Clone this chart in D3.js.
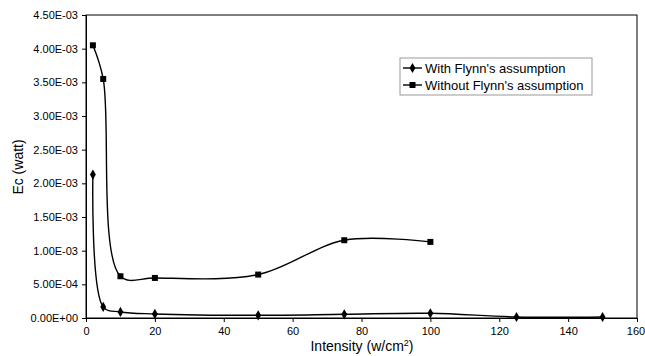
<!DOCTYPE html>
<html><head><meta charset="utf-8">
<script src="https://cdn.jsdelivr.net/npm/d3@7"></script>
<style>body{margin:0;background:#fff}svg{display:block;font-family:"Liberation Sans",Arial,sans-serif}</style>
</head><body><svg id="c" width="645" height="356"></svg>
<script>
const xTicks = [0,20,40,60,80,100,120,140,160];
const yTicks = [0,0.0005,0.001,0.0015,0.002,0.0025,0.003,0.0035,0.004,0.0045];
const withX = [2,5,10,20,50,75,100,125,150];
const withY = [0.00213,0.000165,0.00009,0.00006,0.00004,0.000055,0.00007,0.000015,0.000015];
const withoutX = [2,5,10,20,50,75,100];
const withoutY = [0.00405,0.00355,0.00062,0.000595,0.000645,0.001155,0.00113];
const seriesNames = ["With Flynn's assumption","Without Flynn's assumption"];

const svg = d3.select("#c");
const L=86,R=637,T=15,B=318;
const x = d3.scaleLinear().domain([0,160]).range([L,R]);
const y = d3.scaleLinear().domain([0,0.0045]).range([B,T]);
const fmt = v => { if(v===0) return "0.00E+00"; const e=Math.floor(Math.log10(v)+1e-9); const m=v/Math.pow(10,e); const s=e<0?"-":"+"; return m.toFixed(2)+"E"+s+String(Math.abs(e)).padStart(2,"0"); };

svg.append("rect").attr("x",L).attr("y",T).attr("width",R-L).attr("height",B-T).attr("fill","none").attr("stroke","#000").attr("stroke-width",1);

const ya = svg.append("g").attr("transform",`translate(${L},0)`).call(d3.axisLeft(y).tickValues(yTicks).tickFormat(fmt).tickSize(4).tickPadding(4));
ya.select(".domain").attr("stroke","#000");
ya.selectAll("text").attr("font-size",11).attr("fill","#000").attr("font-family","Liberation Sans, Arial, sans-serif");
const xa = svg.append("g").attr("transform",`translate(0,${B})`).call(d3.axisBottom(x).tickValues(xTicks).tickFormat(d3.format("d")).tickSize(4).tickPadding(5));
xa.selectAll("text").attr("font-size",11).attr("fill","#000").attr("font-family","Liberation Sans, Arial, sans-serif")
  .attr("dx",d=>d===160?-1.5:0);

svg.append("text").attr("transform","translate(23,167) rotate(-90)").attr("text-anchor","middle").attr("font-size",14).text("Ec (watt)");
const xt = svg.append("text").attr("x",362).attr("y",351).attr("text-anchor","middle").attr("font-size",14);
xt.append("tspan").text("Intensity (w/cm");
xt.append("tspan").attr("dy",-5).attr("font-size",9).text("2");
xt.append("tspan").attr("dy",5).text(")");

const line = d3.line().x(d=>x(d[0])).y(d=>y(d[1])).curve(d3.curveCatmullRom.alpha(0.5));
const dW = withX.map((v,i)=>[v,withY[i]]);
const dO = withoutX.map((v,i)=>[v,withoutY[i]]);
svg.append("path").attr("d",line(dW)).attr("fill","none").attr("stroke","#000").attr("stroke-width",1.4);
svg.append("path").attr("d",line(dO)).attr("fill","none").attr("stroke","#000").attr("stroke-width",1.4);
const diamond = d3.symbol().type(d3.symbolDiamond).size(30);
svg.selectAll(".dw").data(dW).join("path").attr("d",diamond).attr("transform",d=>`translate(${x(d[0])},${y(d[1])})`).attr("fill","#000");
svg.selectAll(".so").data(dO).join("rect").attr("x",d=>x(d[0])-3).attr("y",d=>y(d[1])-3).attr("width",6).attr("height",6).attr("fill","#000");

// legend
const lg = svg.append("g");
lg.append("rect").attr("x",400).attr("y",58).attr("width",192).attr("height",37).attr("fill","#fff").attr("stroke","#999").attr("stroke-width",1);
[0,1].forEach(i=>{
  const cy = 68 + i*17;
  lg.append("line").attr("x1",403).attr("x2",422).attr("y1",cy).attr("y2",cy).attr("stroke","#000").attr("stroke-width",1.4);
  if(i===0) lg.append("path").attr("d",diamond).attr("transform",`translate(412.5,${cy})`).attr("fill","#000");
  else lg.append("rect").attr("x",409.5).attr("y",cy-3).attr("width",6).attr("height",6).attr("fill","#000");
  lg.append("text").attr("x",425).attr("y",cy+4.5).attr("font-size",13).text(seriesNames[i]);
});
</script></body></html>
